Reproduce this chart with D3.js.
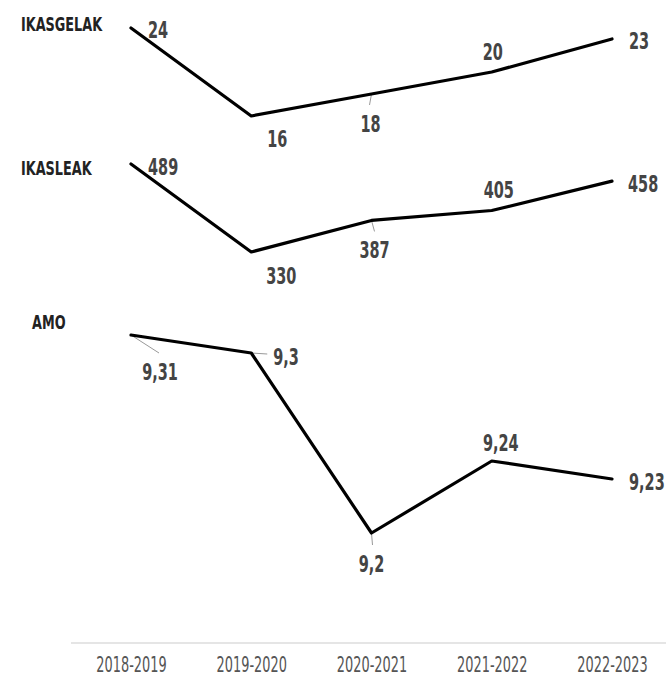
<!DOCTYPE html>
<html><head><meta charset="utf-8">
<script src="https://cdn.jsdelivr.net/npm/d3@7"></script>
<style>
html,body{margin:0;padding:0;background:#fff;}
svg{display:block;}
text{font-family:"DejaVu Sans Condensed","DejaVu Sans",sans-serif;}
</style></head>
<body>
<div id="chart"></div>
<script>
const categories = ["2018-2019","2019-2020","2020-2021","2021-2022","2022-2023"];
const ikasgelak = [24,16,18,20,23];
const ikasleak = [489,330,387,405,458];
const amo = [9.31,9.3,9.2,9.24,9.23];
const seriesNames = ["IKASGELAK","IKASLEAK","AMO"];

// layout (not data)
const W = 666, H = 676;
const panels = [
  {name: seriesNames[0], values: ikasgelak, range:[116,28], title:[21,31],
   labels:[[17,10,"start"],[26,31,"middle"],[-1,38,"middle"],[1,-12,"middle"],[17,10,"start"]],
   leaders:[null,null,[-2,11],null,null]},
  {name: seriesNames[1], values: ikasleak, range:[252,164], title:[21,175],
   labels:[[17,11,"start"],[30,32,"middle"],[3,38,"middle"],[7,-12,"middle"],[16,11,"start"]],
   leaders:[null,null,[3,11],null,null]},
  {name: seriesNames[2], values: amo, range:[533,335], title:[32,329],
   labels:[[29,45,"middle"],[22,12,"start"],[0,39,"middle"],[9,-10,"middle"],[17,11,"start"]],
   leaders:[[28,18],[16,1],[1,12],null,null]}
];

const svg = d3.select("#chart").append("svg").attr("width",W).attr("height",H);
const x = d3.scalePoint().domain(categories).range([131,612]);

const fmt = v => String(v).replace(".", ",");

panels.forEach(p => {
  const y = d3.scaleLinear().domain(d3.extent(p.values)).range(p.range);
  const pts = p.values.map((v,i)=>({c:categories[i], v, i}));

  // title
  svg.append("text")
    .attr("transform",`translate(${p.title[0]},${p.title[1]}) scale(0.75,1)`)
    .attr("font-size",19).attr("font-weight","bold").attr("fill","#222")
    .text(p.name);

  // leaders
  pts.forEach(d => {
    const l = p.leaders[d.i];
    if (!l) return;
    svg.append("line")
      .attr("x1",x(d.c)).attr("y1",y(d.v))
      .attr("x2",x(d.c)+l[0]).attr("y2",y(d.v)+l[1])
      .attr("stroke","#999").attr("stroke-width",1);
  });

  // line
  svg.append("path").datum(pts)
    .attr("d", d3.line().x(d=>x(d.c)).y(d=>y(d.v)))
    .attr("fill","none").attr("stroke","#000").attr("stroke-width",3.2)
    .attr("stroke-linejoin","round").attr("stroke-linecap","round");

  // value labels
  pts.forEach(d => {
    const lb = p.labels[d.i];
    svg.append("text")
      .attr("transform",`translate(${x(d.c)+lb[0]},${y(d.v)+lb[1]}) scale(0.7,1)`)
      .attr("text-anchor",lb[2])
      .attr("font-size",23).attr("font-weight","bold").attr("fill","#444")
      .text(fmt(d.v));
  });
});

// axis
const axisY = 643;
svg.append("line").attr("x1",71).attr("x2",W).attr("y1",axisY).attr("y2",axisY)
  .attr("stroke","#ddd").attr("stroke-width",1.5);
const ax = svg.append("g").attr("transform",`translate(0,${axisY})`)
  .call(d3.axisBottom(x).tickSize(0).tickPadding(0));
ax.select(".domain").remove();
ax.selectAll(".tick text")
  .attr("y",null).attr("dy",null)
  .attr("transform","translate(0,29) scale(0.7,1)")
  .attr("font-size",20.5).attr("fill","#555")
  .style("font-family",'"DejaVu Sans Condensed","DejaVu Sans",sans-serif');
</script>
</body></html>
